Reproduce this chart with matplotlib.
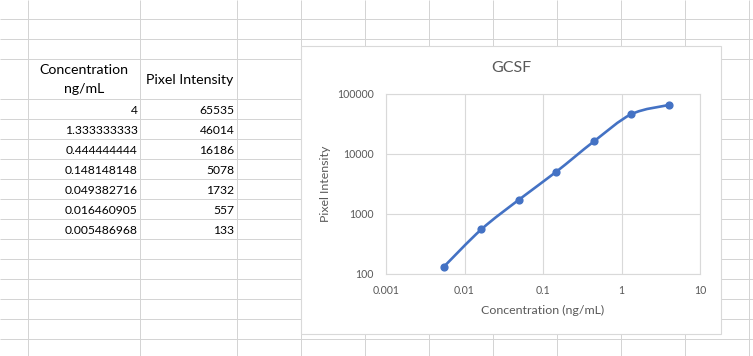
import matplotlib
matplotlib.use("Agg")
import matplotlib.pyplot as plt
import numpy as np
from matplotlib.path import Path
from matplotlib.patches import PathPatch, Rectangle
from matplotlib.ticker import FixedLocator, FixedFormatter, NullLocator

# ---- data ----
conc_labels = ["4", "1.333333333", "0.444444444", "0.148148148",
               "0.049382716", "0.016460905", "0.005486968"]
conc = [4, 1.333333333, 0.444444444, 0.148148148,
        0.049382716, 0.016460905, 0.005486968]
intensity = [65535, 46014, 16186, 5078, 1732, 557, 133]
header_conc = ["Concentration", "ng/mL"]
header_int = "Pixel Intensity"
chart_title = "GCSF"
x_title = "Concentration (ng/mL)"
y_title = "Pixel Intensity"
x_ticks = [0.001, 0.01, 0.1, 1, 10]
x_tick_labels = ["0.001", "0.01", "0.1", "1", "10"]
y_ticks = [100, 1000, 10000, 100000]
y_tick_labels = ["100", "1000", "10000", "100000"]

W, H = 753, 356
FONT = "Lato"
plt.rcParams['font.family'] = [FONT, 'DejaVu Sans']

fig = plt.figure(figsize=(W / 100, H / 100), dpi=100)
fig.patch.set_facecolor("white")

# background sheet axes in pixel coordinates
bg = fig.add_axes([0, 0, 1, 1])
bg.set_xlim(0, W)
bg.set_ylim(H, 0)
bg.axis("off")

grid_c = "#d4d4d4"
lw_px = 0.72
col_lines = [28.5, 140.5, 237.5, 301.5, 365.5, 429.5, 493.5, 557.5, 621.5, 685.5, 749.5]
row_lines = [18.5, 38.5, 58.5] + [98.5 + 20 * i for i in range(13)]
for xv in col_lines:
    bg.plot([xv, xv], [0, H], color=grid_c, lw=lw_px, solid_capstyle="butt")
for yv in row_lines:
    bg.plot([0, W], [yv, yv], color=grid_c, lw=lw_px, solid_capstyle="butt")

# table text
fs_head = 10.2
fs_num = 8.7
bg.text(84, 70.5, header_conc[0], ha="center", va="center", fontsize=fs_head, color="black")
bg.text(84, 89, header_conc[1], ha="center", va="center", fontsize=fs_head, color="black")
bg.text(189.5, 80, header_int, ha="center", va="center", fontsize=fs_head, color="black")
for i, (cl, iv) in enumerate(zip(conc_labels, intensity)):
    yc = 110 + 20 * i
    bg.text(137.5, yc, cl, ha="right", va="center", fontsize=fs_num, color="black")
    bg.text(234.5, yc, str(iv), ha="right", va="center", fontsize=fs_num, color="black")

# chart box
bg.add_patch(Rectangle((301.5, 45.5), 420, 288, facecolor="white",
                       edgecolor="#d9d9d9", lw=0.8, zorder=3))

tc = "#595959"
bg.text(511, 68, chart_title, ha="center", va="center", fontsize=11.5, color=tc, zorder=4)
bg.text(543, 310, x_title, ha="center", va="center", fontsize=8.9, color=tc, zorder=4)
bg.text(326, 184, y_title, ha="center", va="center", rotation=90, fontsize=8.9,
        color=tc, zorder=4)

# plot area
L, R, T, B = 386, 700, 94, 274
ax = fig.add_axes([L / W, 1 - B / H, (R - L) / W, (B - T) / H], zorder=5)
ax.set_facecolor("none")
ax.set_xscale("log")
ax.set_yscale("log")
ax.set_xlim(x_ticks[0], x_ticks[-1])
ax.set_ylim(y_ticks[0], y_ticks[-1])
ax.xaxis.set_major_locator(FixedLocator(x_ticks))
ax.xaxis.set_major_formatter(FixedFormatter(x_tick_labels))
ax.yaxis.set_major_locator(FixedLocator(y_ticks))
ax.yaxis.set_major_formatter(FixedFormatter(y_tick_labels))
ax.xaxis.set_minor_locator(NullLocator())
ax.yaxis.set_minor_locator(NullLocator())
ax.tick_params(length=0, labelsize=7.6, labelcolor=tc, pad=8)
ax.tick_params(axis="y", pad=9)
ax.grid(True, color="#d9d9d9", lw=0.8)
for s in ax.spines.values():
    s.set_color("#d9d9d9")
    s.set_linewidth(0.8)

# smoothed line (Bezier in log space, like Excel smoothing)
order = np.argsort(conc)
lx = np.log10(np.array(conc)[order])
ly = np.log10(np.array(intensity)[order])
P = np.column_stack([lx, ly])
n = len(P)
verts = [P[0]]
codes = [Path.MOVETO]
for i in range(n - 1):
    p0 = P[i - 1] if i > 0 else P[i]
    p1 = P[i]
    p2 = P[i + 1]
    p3 = P[i + 2] if i + 2 < n else P[i + 1]
    c1 = p1 + (p2 - p0) / 6.0
    c2 = p2 - (p3 - p1) / 6.0
    verts += [c1, c2, p2]
    codes += [Path.CURVE4] * 3
verts = 10 ** np.array(verts)
path = Path(verts, codes)
blue = "#4472C4"
ax.add_patch(PathPatch(path, transform=ax.transData, fill=False, edgecolor=blue,
                       lw=1.9, zorder=3))
ax.plot(conc, intensity, "o", color=blue, markersize=4.9, zorder=4, clip_on=False)

fig.savefig("out.png", dpi=100, facecolor="white")
